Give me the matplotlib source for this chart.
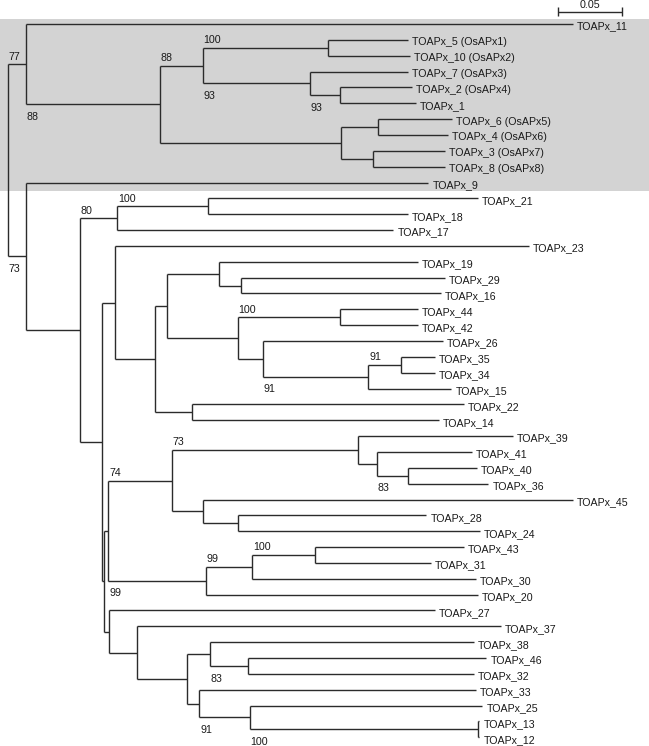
import matplotlib
import matplotlib.pyplot as plt
from matplotlib.patches import Rectangle

matplotlib.use("Agg")

# tips, top to bottom: name, parent node, distance from root
leaf_names = [
    "TOAPx_11", "TOAPx_5 (OsAPx1)", "TOAPx_10 (OsAPx2)", "TOAPx_7 (OsAPx3)",
    "TOAPx_2 (OsAPx4)", "TOAPx_1", "TOAPx_6 (OsAPx5)", "TOAPx_4 (OsAPx6)",
    "TOAPx_3 (OsAPx7)", "TOAPx_8 (OsAPx8)", "TOAPx_9", "TOAPx_21",
    "TOAPx_18", "TOAPx_17", "TOAPx_23", "TOAPx_19", "TOAPx_29", "TOAPx_16",
    "TOAPx_44", "TOAPx_42", "TOAPx_26", "TOAPx_35", "TOAPx_34", "TOAPx_15",
    "TOAPx_22", "TOAPx_14", "TOAPx_39", "TOAPx_41", "TOAPx_40", "TOAPx_36",
    "TOAPx_45", "TOAPx_28", "TOAPx_24", "TOAPx_43", "TOAPx_31", "TOAPx_30",
    "TOAPx_20", "TOAPx_27", "TOAPx_37", "TOAPx_38", "TOAPx_46", "TOAPx_32",
    "TOAPx_33", "TOAPx_25", "TOAPx_13", "TOAPx_12",
]
leaf_parent = [
    "A", "n5_10", "n5_10", "n7_2_1", "n2_1", "n2_1", "n6_4", "n6_4",
    "n3_8", "n3_8", "B", "n21_18", "n21_18", "D", "F", "J", "n29_16",
    "n29_16", "n44_42", "n44_42", "L", "n35_34", "n35_34", "M", "n22_14",
    "n22_14", "P", "R", "S", "S", "Q", "T", "T", "W", "W", "V", "U", "Z",
    "AA", "CC", "EE", "EE", "DD", "FF", "GG", "GG",
]
leaf_depth = [
    0.4414, 0.3123, 0.3139, 0.3123, 0.3155, 0.3188, 0.3469, 0.3436,
    0.3414, 0.3414, 0.3284, 0.3672, 0.3123, 0.3009, 0.4070, 0.3203,
    0.3414, 0.3381, 0.3203, 0.3203, 0.3398, 0.3333, 0.3333, 0.3463,
    0.3559, 0.3365, 0.3945, 0.3624, 0.3663, 0.3753, 0.4414, 0.3268,
    0.3688, 0.3559, 0.3301, 0.3656, 0.3672, 0.3333, 0.3850, 0.3641,
    0.3737, 0.3641, 0.3656, 0.3707, 0.3682, 0.3682,
]

# internal nodes: name, parent, distance from root, bootstrap support
node_names = [
    "root", "A", "n88", "n93a", "n5_10", "n7_2_1", "n2_1", "nX", "n6_4",
    "n3_8", "B", "C", "D", "n21_18", "E", "F", "G", "I", "J", "n29_16",
    "K", "n44_42", "L", "M", "n35_34", "n22_14", "Y", "N", "O", "P", "R",
    "S", "Q", "T", "U", "V", "W", "Z", "AA", "BB", "CC", "EE", "DD", "FF",
    "GG",
]
node_parent = [
    None, "root", "A", "n88", "n93a", "n93a", "n7_2_1", "n88", "nX",
    "nX", "root", "B", "C", "D", "C", "E", "F", "G", "I", "J",
    "I", "K", "K", "L", "M", "G", "E", "Y", "N", "O", "P",
    "R", "O", "Q", "N", "U", "V", "Y", "Z", "AA", "BB", "CC", "BB", "DD",
    "FF",
]
node_depth = [
    0.0, 0.0137, 0.1189, 0.1522, 0.2498, 0.2356, 0.2595, 0.2605, 0.2890,
    0.2848, 0.0137, 0.0563, 0.0855, 0.1561, 0.0733, 0.0836, 0.1149,
    0.1245, 0.1645, 0.1823, 0.1797, 0.2595, 0.1991, 0.2816, 0.3068,
    0.1441, 0.0753, 0.0784, 0.1280, 0.2734, 0.2880, 0.3123, 0.1522,
    0.1797, 0.1545, 0.1910, 0.2402, 0.0789, 0.1005, 0.1399, 0.1580,
    0.1877, 0.1496, 0.1888, 0.3672,
]
node_support = [
    None, 77, 88, 88, 100, 93, 93, None, None,
    None, 73, None, 80, 100, None, None, None,
    None, None, None, None, 100, None, 91, 91,
    None, None, None, 74, 73, None, 83, None,
    None, 99, 99, 100, None, None, None, None,
    83, None, 91, 100,
]
# which side of its branch the support value sits on
support_below = ["n88", "n7_2_1", "n2_1", "B", "M", "S", "U", "EE", "FF", "GG"]

highlight_leaves = (0, 10)
scale_length = 0.05

LINE = "#2b2b2b"
TEXT = "#1a1a1a"


def layout():
    """Returns x and y of every node and tip, keyed by name."""
    x = dict(zip(node_names, node_depth))
    x.update(zip(leaf_names, leaf_depth))
    children = {n: [] for n in node_names}
    for name, par in zip(node_names, node_parent):
        if par is not None:
            children[par].append(name)
    for name, par in zip(leaf_names, leaf_parent):
        children[par].append(name)
    y = {name: float(i) for i, name in enumerate(leaf_names)}

    def place(name):
        if name not in y:
            ys = [place(c) for c in children[name]]
            y[name] = (min(ys) + max(ys)) / 2
        return y[name]

    place("root")
    return x, y, children


x, y, children = layout()
parents = dict(zip(node_names, node_parent))
parents.update(zip(leaf_names, leaf_parent))

fig = plt.figure(figsize=(6.49, 7.46), dpi=100)
ax = fig.add_axes([0, 0, 1, 1])
ax.set_xlim(-0.00625, 0.5008)
ax.set_ylim(45.55, -1.514)
ax.axis("off")
plt.rcParams["font.family"] = ["Liberation Sans", "DejaVu Sans"]

top, bottom = highlight_leaves
ax.add_patch(Rectangle((-0.1, top - 0.32), 1.0, bottom - top + 0.84,
                       facecolor="#d3d3d3", edgecolor="none", zorder=0))

# branches: horizontal to each node, vertical joining its children
for name, par in parents.items():
    if par is None:
        continue
    ax.hlines(y[name], x[par], x[name], color=LINE, lw=1.0, zorder=2)
for name, kids in children.items():
    ys = [y[k] for k in kids]
    ax.vlines(x[name], min(ys), max(ys), color=LINE, lw=1.0, zorder=2)

for name in leaf_names:
    ax.annotate(name, (x[name], y[name]), xytext=(3, -1.8),
                textcoords="offset points", ha="left", va="center",
                fontsize=7.7, color=TEXT)

for name, value in zip(node_names, node_support):
    if value is None:
        continue
    start = x[parents[name]]
    if name in support_below:
        ax.annotate(str(value), (start, y[name]), xytext=(0.5, -5.5),
                    textcoords="offset points", ha="left", va="top",
                    fontsize=7.7, color=TEXT)
    else:
        ax.annotate(str(value), (start, y[name]), xytext=(0.5, 1.8),
                    textcoords="offset points", ha="left", va="bottom",
                    fontsize=7.7, color=TEXT)

bar_x0 = 0.4299
bar_y = -0.776
ax.hlines(bar_y, bar_x0, bar_x0 + scale_length, color=LINE, lw=1.0)
ax.vlines([bar_x0, bar_x0 + scale_length], bar_y - 0.28, bar_y + 0.28,
          color=LINE, lw=1.0)
ax.annotate(f"{scale_length:.2f}", (bar_x0 + scale_length / 2, bar_y),
            xytext=(0, 1.5), textcoords="offset points", ha="center",
            va="bottom", fontsize=7.7, color=TEXT)

fig.savefig("out.png", dpi=100)
